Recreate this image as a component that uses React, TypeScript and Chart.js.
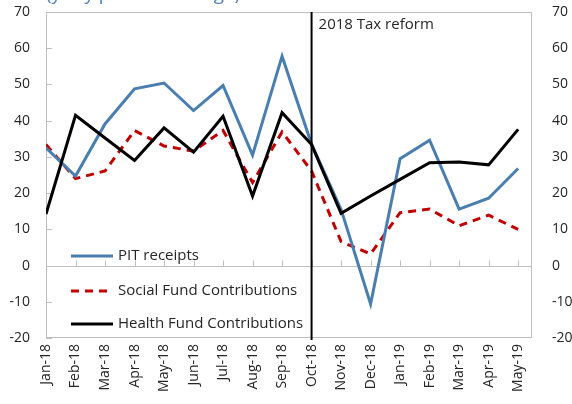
import React, { useEffect, useRef } from 'react';
import { Chart, registerables } from 'chart.js';

Chart.register(...registerables);

const categories = ['Jan-18', 'Feb-18', 'Mar-18', 'Apr-18', 'May-18', 'Jun-18', 'Jul-18', 'Aug-18', 'Sep-18', 'Oct-18', 'Nov-18', 'Dec-18', 'Jan-19', 'Feb-19', 'Mar-19', 'Apr-19', 'May-19'];
const pitReceipts = [32.5, 24.7, 39.1, 48.8, 50.4, 42.8, 49.7, 30.5, 57.8, 33.5, 15.5, -10.6, 29.5, 34.6, 15.6, 18.6, 26.8];
const socialFund = [33.4, 24.0, 26.1, 37.3, 33.0, 31.6, 37.3, 22.9, 36.9, 26.1, 6.6, 3.2, 14.6, 15.6, 11.0, 13.9, 10.0];
const healthFund = [14.2, 41.5, 35.2, 29.0, 38.0, 31.3, 41.2, 19.2, 42.2, 33.4, 14.4, 19.2, 23.8, 28.4, 28.6, 27.8, 37.6];
const yTicks = [-20, -10, 0, 10, 20, 30, 40, 50, 60, 70];
const reformIndex = 9;
const reformLabel = '2018 Tax reform';
const titleText = '(y-o-y percent change)';

const FONT = "'Open Sans', sans-serif";
const TEXT = '#262626';
const AXIS = '#bfbfbf';

export default function App() {
  const ref = useRef<HTMLCanvasElement>(null);

  useEffect(() => {
    const canvas = ref.current;
    if (!canvas) return;
    const toPoints = (arr: number[]) => arr.map((y, i) => ({ x: i, y }));

    const decor = {
      id: 'decor',
      beforeDatasetsDraw(chart: any) {
        const { ctx, chartArea: a, scales } = chart;
        const xs = scales.x;
        const ys = scales.y;
        ctx.save();
        ctx.strokeStyle = AXIS;
        ctx.lineWidth = 1;
        const y0 = Math.round(ys.getPixelForValue(0)) + 0.5;
        ctx.beginPath();
        ctx.moveTo(a.left, y0);
        ctx.lineTo(a.right, y0);
        categories.forEach((_, i) => {
          const px = Math.round(xs.getPixelForValue(i)) + 0.5;
          ctx.moveTo(px, y0);
          ctx.lineTo(px, y0 - 6);
        });
        yTicks.forEach((v) => {
          const py = Math.round(ys.getPixelForValue(v)) + 0.5;
          ctx.moveTo(a.left, py);
          ctx.lineTo(a.left + 6, py);
        });
        ctx.stroke();
        ctx.strokeRect(Math.round(a.left) + 0.5, Math.round(a.top) + 0.5, Math.round(a.width) - 1, Math.round(a.height) - 1);
        ctx.restore();
      },
      afterDatasetsDraw(chart: any) {
        const { ctx, chartArea: a, scales } = chart;
        const xs = scales.x;
        ctx.save();
        const rx = xs.getPixelForValue(reformIndex);
        ctx.strokeStyle = '#000';
        ctx.lineWidth = 2;
        ctx.beginPath();
        ctx.moveTo(rx, a.top);
        ctx.lineTo(rx, a.bottom + 2);
        ctx.stroke();
        ctx.fillStyle = TEXT;
        ctx.font = `15px ${FONT}`;
        ctx.textBaseline = 'middle';
        ctx.textAlign = 'left';
        ctx.fillText(reformLabel, rx + 7, 25);

        // legend
        const rows = [256, 291, 324];
        chart.data.datasets.forEach((ds: any, i: number) => {
          const y = rows[i];
          ctx.strokeStyle = ds.borderColor;
          ctx.lineWidth = 3;
          ctx.setLineDash(ds.borderDash || []);
          ctx.beginPath();
          ctx.moveTo(71, y);
          ctx.lineTo(113, y);
          ctx.stroke();
          ctx.setLineDash([]);
          ctx.fillStyle = TEXT;
          ctx.fillText(ds.label, 118, y);
        });
        ctx.restore();
      },
      afterDraw(chart: any) {
        const { ctx } = chart;
        ctx.save();
        ctx.fillStyle = '#4F81BD';
        ctx.font = `19px ${FONT}`;
        ctx.textBaseline = 'alphabetic';
        ctx.textAlign = 'left';
        ctx.fillText(titleText, 46, 0, 194);
        ctx.restore();
      },
    };

    const fixPad = (w: number) => (s: any) => {
      s.width = w;
      s.paddingTop = 8;
      s.paddingBottom = 8;
    };

    const chart = new Chart(canvas, {
      type: 'line',
      data: {
        datasets: [
          { label: 'PIT receipts', data: toPoints(pitReceipts), borderColor: '#4A7EB0', borderWidth: 3, order: 1 },
          { label: 'Social Fund Contributions', data: toPoints(socialFund), borderColor: '#C00000', borderWidth: 3, borderDash: [8, 6], order: 2 },
          { label: 'Health Fund Contributions', data: toPoints(healthFund), borderColor: '#000000', borderWidth: 3, order: 0 },
        ],
      },
      options: {
        responsive: false,
        animation: false,
        events: [],
        layout: { padding: { top: 12, left: 0, right: 0, bottom: 0 } },
        plugins: { legend: { display: false }, tooltip: { enabled: false } },
        elements: { point: { radius: 0 }, line: { tension: 0, borderCapStyle: 'butt', borderJoinStyle: 'miter' } },
        scales: {
          x: {
            type: 'linear',
            position: 'bottom',
            min: 0,
            max: 16.47,
            grid: { display: false, drawTicks: false },
            border: { display: false },
            afterBuildTicks: (s: any) => { s.ticks = categories.map((_, i) => ({ value: i })); },
            afterFit: (s: any) => { s.height = 66; },
            ticks: {
              autoSkip: false,
              minRotation: 90,
              maxRotation: 90,
              padding: 6,
              color: TEXT,
              font: { family: FONT, size: 14 },
              callback: (v: any) => categories[v as number] ?? '',
            },
          },
          y: {
            position: 'left',
            min: -20,
            max: 70,
            grid: { display: false, drawTicks: false },
            border: { display: false },
            afterFit: fixPad(46),
            ticks: { stepSize: 10, padding: 16, color: TEXT, font: { family: FONT, size: 14 } },
          },
          y2: {
            position: 'right',
            min: -20,
            max: 70,
            grid: { display: false, drawTicks: false },
            border: { display: false },
            afterFit: fixPad(40),
            ticks: { stepSize: 10, padding: 20, color: TEXT, font: { family: FONT, size: 14 } },
          },
        },
      },
      plugins: [decor],
    } as any);

    return () => chart.destroy();
  }, []);

  return (
    <div style={{ position: 'absolute', left: 0, top: 0, width: 572, height: 404 }}>
      <canvas ref={ref} width={572} height={404} style={{ display: 'block', width: 572, height: 404 }} />
    </div>
  );
}
